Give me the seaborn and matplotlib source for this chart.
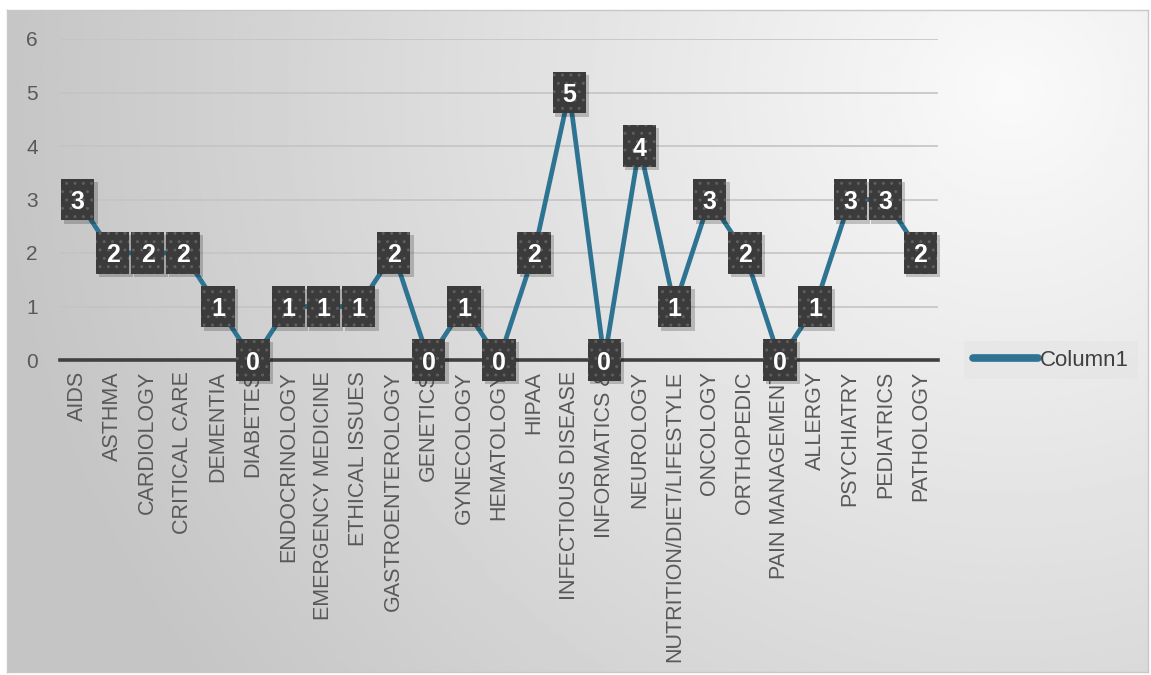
import numpy as np
import pandas as pd
import matplotlib
matplotlib.use("Agg")
import matplotlib.pyplot as plt
import matplotlib.transforms as mtransforms
import seaborn as sns

categories = ["AIDS", "ASTHMA", "CARDIOLOGY", "CRITICAL CARE", "DEMENTIA", "DIABETES",
              "ENDOCRINOLOGY", "EMERGENCY MEDICINE", "ETHICAL ISSUES", "GASTROENTEROLOGY",
              "GENETICS", "GYNECOLOGY", "HEMATOLOGY", "HIPAA", "INFECTIOUS DISEASE",
              "INFORMATICS &", "NEUROLOGY", "NUTRITION/DIET/LIFESTYLE", "ONCOLOGY",
              "ORTHOPEDIC", "PAIN MANAGEMENT", "ALLERGY", "PSYCHIATRY", "PEDIATRICS",
              "PATHOLOGY"]
values = [3, 2, 2, 2, 1, 0, 1, 1, 1, 2, 0, 1, 0, 2, 5, 0, 4, 1, 3, 2, 0, 1, 3, 3, 2]
series_name = "Column1"
yticks = [0, 1, 2, 3, 4, 5, 6]

df = pd.DataFrame({"category": categories, series_name: values})

sns.set_style("white")
plt.rcParams["font.family"] = ["Liberation Sans", "DejaVu Sans"]

W, H = 1151, 675
fig = plt.figure(figsize=(W / 100, H / 100), dpi=100, facecolor="white")

# gradient background panel
bg = fig.add_axes([7 / W, 3 / H, 1141 / W, 662 / H], zorder=0)
gx, gy = np.meshgrid(np.linspace(0, 1, 400), np.linspace(0, 1, 240))
dist = np.sqrt((gx - 0.88) ** 2 + ((gy - 0.12) * 0.6) ** 2)
shade = 0.98 - 0.21 * np.clip(dist / 0.9, 0, 1)
bg.imshow(shade, cmap="gray", vmin=0, vmax=1, aspect="auto", extent=[0, 1, 1, 0],
          interpolation="bilinear")
bg.set_xlim(0, 1)
bg.set_ylim(1, 0)
bg.set_xticks([])
bg.set_yticks([])
for s in bg.spines.values():
    s.set_color("#c8c8c8")
    s.set_linewidth(1)

ax = fig.add_axes([60 / W, 1 - 360 / H, 878 / W, 321 / H], zorder=1)
ax.patch.set_alpha(0)

sns.lineplot(data=df, x="category", y=series_name, sort=False, ax=ax,
             color="#2e7391", linewidth=3.4, label=series_name,
             solid_capstyle="round", solid_joinstyle="round")

ax.set_xlim(-0.5, len(categories) - 0.5)
ax.set_ylim(0, 6)
ax.set_yticks(yticks)
ax.set_yticklabels([str(t) for t in yticks], fontsize=15, color="#595959")
ax.yaxis.grid(True, color="#c4c4c4", linewidth=1.2)
ax.set_axisbelow(True)
ax.tick_params(axis="y", length=0, pad=16)
ax.set_xlabel("")
ax.set_ylabel("")

ax.set_xticks(range(len(categories)))
ax.set_xticklabels(categories, rotation=90, fontsize=15.5, color="#595959",
                   va="top", ha="center")
ax.set_xticks(np.arange(-0.5, len(categories), 1), minor=True)
ax.tick_params(axis="x", which="major", length=0, pad=8)
ax.tick_params(axis="x", which="minor", length=6, width=2.2, color="#404040")

for side in ["top", "right", "left"]:
    ax.spines[side].set_visible(False)
ax.spines["bottom"].set_color("#404040")
ax.spines["bottom"].set_linewidth(2.6)
ax.spines["bottom"].set_zorder(3)

# data label boxes (32x40 px rectangles) with soft shadow
box = [(-0.8, -1), (0.8, -1), (0.8, 1), (-0.8, 1), (-0.8, -1)]
xs = np.arange(len(values))
shadow_tr = ax.transData + mtransforms.ScaledTranslation(3 / 100, -3 / 100, fig.dpi_scale_trans)
ax.scatter(xs, values, marker=box, s=30 ** 2, c="black", alpha=0.2, linewidths=0,
           transform=shadow_tr, zorder=5, clip_on=False)
ax.scatter(xs, values, marker=box, s=30 ** 2, c="#3b3b3b", edgecolors="#5e5e5e",
           linewidths=0, hatch="..", zorder=6, clip_on=False)
for i, v in enumerate(values):
    ax.text(i, v, str(v), ha="center", va="center_baseline", fontsize=18,
            fontweight="bold", color="white", zorder=7, clip_on=False)

leg = ax.legend(loc="center left", bbox_to_anchor=(1.03, 0.0), frameon=True,
                fontsize=16, handlelength=2.9, handletextpad=0.1,
                borderpad=0.4, borderaxespad=0, fancybox=False)
leg.get_frame().set_facecolor("#e6e6e6")
leg.get_frame().set_edgecolor("none")
for t in leg.get_texts():
    t.set_color("#404040")
for h in leg.get_lines():
    h.set_linewidth(5.5)

fig.savefig("out.png", dpi=100, facecolor="white")
